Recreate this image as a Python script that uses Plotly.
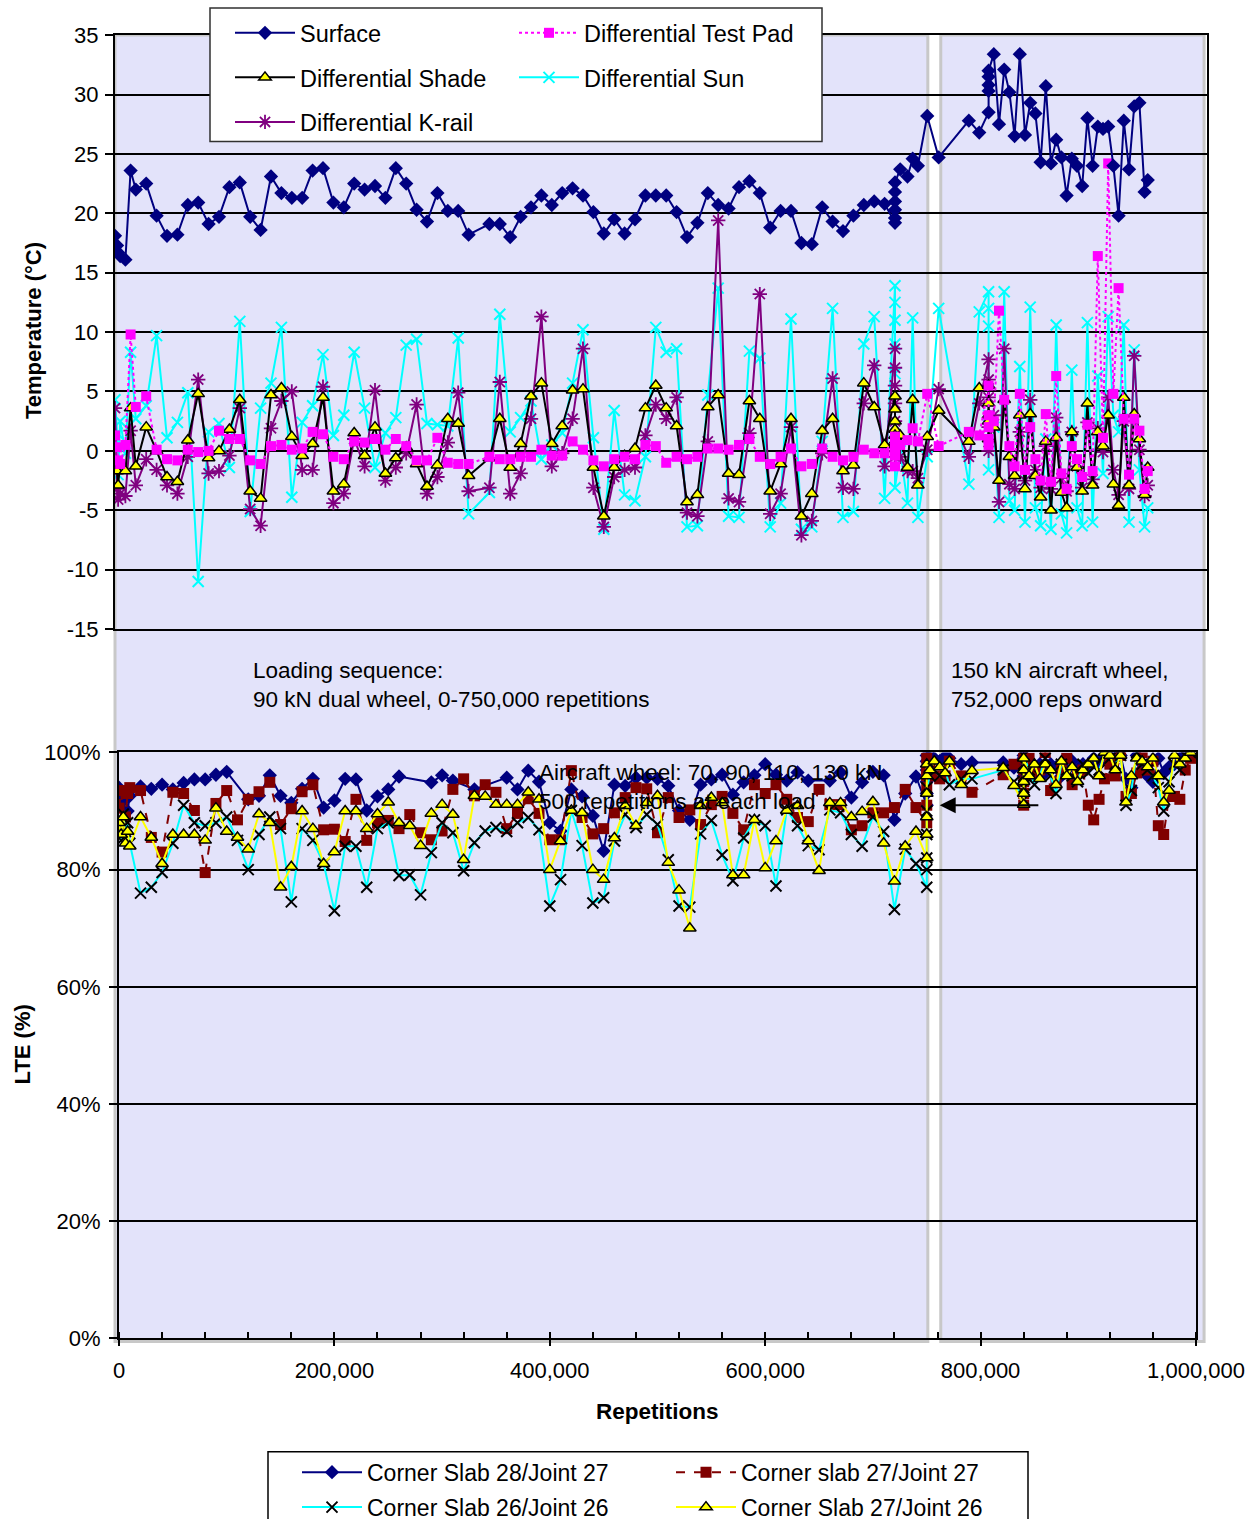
import plotly.graph_objects as go

# ---------------- TOP CHART DATA (temperature) ----------------
temp_reps_k = [0, 2, 3, 5, 10, 15, 20, 30, 40, 50, 60, 70, 80, 90, 100, 110, 120, 130, 140, 150,
               160, 170, 180, 190, 200, 210, 220, 230, 240, 250, 260, 270, 280, 290, 300, 310, 320, 330, 340, 360,
               370, 380, 390, 400, 410, 420, 430, 440, 450, 460, 470, 480, 490, 500, 510, 520, 530, 540, 550, 560,
               570, 580, 590, 600, 610, 620, 630, 640, 650, 660, 670, 680, 690, 700, 710, 720, 730, 740,
               750, 750, 750, 750, 750, 750, 755, 762, 767, 772, 781, 792, 821, 831,
               840, 840, 840, 840, 840, 845, 850, 855, 860, 865, 870, 875, 880, 885, 890, 895, 900, 905, 910, 915,
               920, 925, 930, 935, 940, 945, 950, 955, 960, 965, 970, 975, 980, 985, 990, 993]

surface = [18.1, 17.3, 16.7, 16.4, 16.1, 23.6, 22.0, 22.5, 19.8, 18.1, 18.2, 20.7, 20.9, 19.1, 19.7, 22.2, 22.6, 19.7, 18.6, 23.1,
           21.7, 21.3, 21.3, 23.6, 23.8, 20.9, 20.5, 22.5, 22.0, 22.3, 21.3, 23.8, 22.5, 20.3, 19.3, 21.7, 20.2, 20.2, 18.2, 19.1,
           19.1, 18.0, 19.7, 20.5, 21.5, 20.7, 21.7, 22.1, 21.5, 20.1, 18.3, 19.5, 18.3, 19.5, 21.5, 21.5, 21.5, 20.1, 18.0, 19.2,
           21.7, 20.7, 20.4, 22.2, 22.7, 21.7, 18.8, 20.2, 20.2, 17.5, 17.4, 20.5, 19.3, 18.5, 19.8, 20.7, 21.0, 20.8,
           19.2, 19.6, 20.3, 21.0, 21.8, 22.6, 23.7, 23.1, 24.6, 24.0, 28.2, 24.7, 27.8, 26.8,
           28.5, 30.3, 30.8, 31.5, 32.0, 33.4, 27.5, 32.1, 30.2, 26.5, 33.4, 26.6, 29.3, 28.4, 24.3, 30.7, 24.2, 26.2, 24.7, 21.5,
           24.6, 24.0, 22.3, 28.0, 24.0, 27.3, 27.1, 27.3, 24.0, 19.8, 27.8, 23.7, 29.0, 29.3, 21.8, 22.8]

diff_shade = [-1.1, -1.7, -2.9, -1.0, -1.7, 3.6, -1.3, 2.0, 0.0, -2.2, -2.6, 0.9, 4.8, -0.6, 0.0, 1.8, 4.3, -3.4, -4.0, 4.7,
              5.3, 1.2, -0.4, 0.6, 4.5, -3.4, -2.8, 1.5, -0.4, 2.0, -1.9, -0.6, 0.3, -1.1, -3.0, -1.2, 2.7, 2.3, -2.1, -0.6,
              2.7, -1.4, 0.6, 4.6, 5.7, 0.6, 2.1, 5.1, 5.2, -1.4, -5.5, -1.4, -0.4, 0.2, 3.6, 5.5, 3.6, 2.1, -4.3, -3.7,
              3.7, 4.7, -1.9, -2.0, 4.2, 2.7, -3.4, -1.1, 2.7, -5.5, -3.6, 1.7, 2.7, -1.7, -1.2, 5.7, 3.7, 0.5,
              4.6, 3.5, 2.5, 1.8, 1.3, 0.8, 1.3, -1.4, 4.3, -2.9, 1.2, 3.4, 0.8, 5.3,
              5.5, 4.0, 2.5, 1.0, 3.0, 2.0, -2.5, 4.3, -0.5, -2.1, 3.0, -3.2, 3.1, -2.1, -3.9, 0.8, -5.0, 1.1, -3.5, -4.8,
              1.6, -1.4, -3.4, 4.0, -2.9, 1.6, 0.4, 3.0, -2.8, -4.6, 4.5, -2.9, 3.1, 1.0, -3.7, -1.4]

diff_sun = [4.3, 1.5, -2.0, 2.5, -0.2, 8.3, 2.7, 3.8, 9.7, 1.1, 2.4, 4.9, -11.0, 1.6, 2.3, -1.4, 10.9, -5.1, 3.6, 5.7,
            10.4, -3.9, 2.4, 3.8, 8.1, 1.3, 3.0, 8.3, 3.6, -1.4, 1.5, 2.8, 8.9, 9.4, 2.3, 2.2, 2.1, 9.5, -5.3, -3.5,
            11.5, 1.6, 2.8, 4.2, -0.7, 0.5, 1.5, 5.7, 10.2, 1.1, -6.6, 3.4, -3.7, -4.2, -0.5, 10.4, 8.3, 8.6, -6.4, -6.3,
            4.7, 13.7, -5.5, -5.6, 8.4, 7.8, -6.4, -4.4, 11.1, -6.6, -6.4, 0.8, 12.0, -5.6, -5.1, 9.0, 11.3, -4.0,
            13.9, 12.5, 11.0, 9.0, 6.5, -3.1, 0.0, -4.4, 11.2, -5.6, -0.5, 12.0, -2.8, 11.7,
            13.4, 12.0, 10.5, -1.6, 3.0, 2.0, -5.6, 13.4, -4.2, -5.0, 7.1, -6.0, 12.1, -4.8, -6.3, 1.0, -6.6, 10.6, -5.3, -6.9,
            6.8, -4.8, -6.3, 10.8, -6.0, 6.3, -1.9, 11.3, 3.0, 1.6, 10.6, -6.0, 8.5, -1.6, -6.4, -4.8]

diff_krail = [3.6, -3.2, -4.1, -3.6, -3.8, 1.7, -2.9, -0.7, -1.6, -2.9, -3.6, -0.5, 6.0, -1.9, -1.7, -0.4, 3.6, -4.9, -6.3, 1.9,
              4.2, 5.0, -1.6, -1.6, 5.4, -4.4, -3.6, 1.0, -1.3, 5.1, -2.5, -1.4, -0.2, 3.9, -3.6, -2.2, 0.7, 4.9, -3.4, -3.1,
              5.8, -3.6, -1.9, 2.7, 11.3, -1.3, -0.2, 2.7, 8.6, -3.1, -6.4, -2.2, -1.6, -1.4, 1.3, 3.9, 2.7, 4.5, -5.2, -5.5,
              0.8, 19.4, -4.0, -4.3, 1.5, 13.2, -5.3, -3.6, 2.0, -7.1, -5.9, -0.2, 6.1, -3.1, -3.2, 4.0, 7.2, -1.3,
              8.6, 7.0, 5.5, 4.0, 2.5, -0.5, -0.5, -1.7, -1.7, -2.3, 0.1, 5.2, -0.5, 4.0,
              7.7, 6.0, 4.5, 2.0, 0.0, 3.0, -4.3, 8.6, -2.8, -3.2, 1.6, -2.5, 4.3, -1.6, -3.1, 0.4, -3.2, 2.8, -2.3, -3.4,
              1.6, -1.3, -3.1, 2.4, -2.4, 1.9, -0.1, 4.5, -1.6, -3.7, 2.5, -3.2, 8.0, 0.1, -3.8, -2.9]

diff_test_pad = [1.3, 0.3, -0.8, -1.1, 0.5, 9.8, 3.7, 4.6, 0.1, -0.7, -0.8, 0.1, -0.1, 0.0, 1.7, 1.0, 1.0, -0.8, -1.1, 0.4,
                 0.5, 0.1, 0.2, 1.6, 1.4, -0.5, -0.7, 0.8, 0.7, 1.0, 0.1, 1.0, 0.4, -0.8, -0.8, 1.1, -1.0, -1.1, -1.1, -0.5,
                 -0.7, -0.7, -0.5, -0.5, 0.1, -0.4, -0.4, 0.8, 0.1, -0.8, -1.3, -0.7, -0.5, -0.7, 0.5, 0.4, -1.0, -0.5, -0.7, -0.5,
                 0.2, 0.2, 0.1, 0.5, 1.0, -0.5, -1.1, -0.5, 0.2, -1.3, -1.1, 0.2, -0.5, -0.8, -0.5, 0.1, -0.2, -0.2,
                 1.2, 0.8, 0.5, 0.0, -0.4, -1.3, 0.5, 0.9, 1.9, 0.8, 4.8, 0.4, 1.6, 1.3,
                 5.5, 3.0, 2.0, 1.0, 0.5, 2.5, 11.8, 4.3, 0.4, -1.3, 4.8, -1.6, 2.0, -0.7, -2.5, 3.1, -2.6, 6.3, -1.9, -3.2,
                 0.4, -0.7, -2.2, 2.2, -1.7, 16.4, 1.1, 24.2, 4.8, 13.7, 2.7, -2.0, 2.7, 1.7, -3.2, -1.7]

temp_ticks = [-15, -10, -5, 0, 5, 10, 15, 20, 25, 30, 35]

# ---------------- BOTTOM CHART DATA (LTE) ----------------
lte_reps_k = [0, 2, 4, 6, 8, 10, 20, 30, 40, 50, 60, 70, 80, 90, 100, 110, 120, 130, 140, 150,
              160, 170, 180, 190, 200, 210, 220, 230, 240, 250, 260, 270, 280, 290, 300, 310, 320, 330, 340, 350,
              360, 370, 380, 390, 400, 410, 420, 430, 440, 450, 460, 470, 480, 490, 500, 510, 520, 530, 540, 550,
              560, 570, 580, 590, 600, 610, 620, 630, 640, 650, 660, 670, 680, 690, 700, 710, 720, 730, 740,
              750, 750, 750, 750, 750, 750, 753, 757, 762, 767, 771, 782, 792, 821, 831,
              840, 840, 840, 840, 840, 845, 850, 855, 860, 865, 870, 875, 880, 885, 890, 895, 900, 905, 910, 915,
              920, 925, 930, 935, 940, 945, 950, 955, 960, 965, 970, 975, 980, 985, 990, 995]

slab28_joint27 = [0.940, 0.915, 0.885, 0.925, 0.900, 0.926, 0.942, 0.938, 0.945, 0.937, 0.948, 0.954, 0.954, 0.962, 0.967, None, 0.920, 0.926, 0.961, 0.926,
                  0.914, 0.938, 0.955, 0.906, 0.918, 0.955, 0.954, 0.901, 0.925, 0.937, 0.959, None, None, 0.949, 0.961, 0.952, None, 0.937, None, None,
                  0.957, 0.937, 0.969, 0.950, 0.880, 0.866, 0.937, 0.925, 0.892, 0.832, 0.945, 0.943, 0.957, 0.957, 0.955, 0.943, 0.901, 0.885, 0.945, 0.954,
                  0.962, 0.928, 0.949, 0.961, 0.980, 0.962, 0.952, 0.966, 0.952, None, 0.952, 0.966, 0.923, 0.949, 0.967, 0.961, 0.885, 0.930, 0.959,
                  0.910, 0.930, 0.950, 0.970, 0.985, 0.995, 0.995, 0.990, 0.985, 0.993, 0.990, 0.980, 0.983, 0.983, 0.974,
                  0.970, 0.980, 0.990, 0.995, 0.960, 0.980, 0.975, 0.980, 0.965, 0.980, 0.975, 0.960, 0.970, 0.985, 0.970, 0.980, 0.975, 0.990, 0.980, 0.995,
                  1.000, 0.990, 0.995, 0.955, 0.940, 0.995, 0.980, 0.960, 0.950, 0.990, 0.965, 0.975, 0.980, 0.990, 0.995, 0.995]

slab27_joint27 = [0.905, 0.935, 0.875, 0.890, 0.930, 0.940, 0.935, 0.855, 0.830, 0.932, 0.930, 0.901, 0.795, 0.913, 0.935, 0.885, 0.920, 0.933, 0.949, 0.877,
                  0.904, 0.933, 0.945, 0.868, 0.869, 0.848, 0.920, 0.850, 0.880, 0.884, 0.870, 0.894, 0.863, 0.851, 0.866, 0.937, 0.955, 0.926, 0.945, 0.932,
                  0.870, 0.896, 0.921, 0.896, 0.851, 0.851, 0.969, 0.889, 0.861, 0.870, 0.897, 0.923, 0.940, 0.938, 0.863, 0.923, 0.889, 0.902, 0.877, 0.911,
                  0.925, 0.896, 0.868, 0.945, 0.930, 0.945, 0.920, 0.889, 0.882, 0.937, 0.911, 0.911, 0.868, 0.875, 0.897, 0.897, 0.906, 0.937, 0.906,
                  0.880, 0.910, 0.940, 0.960, 0.970, 0.990, 0.980, 0.960, 0.955, 0.960, 0.985, 0.960, 0.932, 0.962, 0.980,
                  0.990, 0.970, 0.950, 0.930, 0.910, 0.990, 0.960, 0.970, 1.000, 0.935, 0.950, 0.970, 0.990, 0.945, 0.965, 0.970, 0.910, 0.885, 0.920, 0.955,
                  0.980, 0.960, 0.995, 0.925, 0.930, 0.965, 1.000, 0.970, 0.985, 0.875, 0.860, 0.925, 0.925, 0.920, 0.970, 0.990]

slab26_joint26 = [0.870, 0.850, 0.895, 0.865, 0.880, 0.845, 0.760, 0.770, 0.795, 0.845, 0.910, 0.880, 0.875, 0.880, 0.890, 0.850, 0.800, 0.860, 0.890, 0.870,
                  0.745, 0.870, 0.850, 0.810, 0.730, 0.840, 0.840, 0.770, 0.870, 0.880, 0.790, 0.791, 0.757, 0.829, 0.880, 0.863, 0.798, 0.846, 0.866, 0.872,
                  0.865, 0.880, 0.889, 0.868, 0.738, 0.783, 0.901, 0.841, 0.743, 0.752, 0.849, 0.894, 0.872, 0.894, 0.877, 0.817, 0.738, 0.736, 0.861, 0.884,
                  0.825, 0.781, 0.854, 0.885, 0.875, 0.772, 0.902, 0.875, 0.841, 0.834, 0.902, 0.897, 0.860, 0.840, 0.890, 0.865, 0.732, 0.835, 0.810,
                  0.770, 0.800, 0.820, 0.860, 0.900, 0.940, 0.960, 0.970, 0.960, 0.970, 0.945, 0.955, 0.955, 0.970, 0.950,
                  0.920, 0.940, 0.960, 0.980, 0.995, 0.970, 0.945, 0.960, 0.990, 0.960, 0.930, 0.980, 0.970, 0.960, 0.950, 0.980, 0.965, 0.975, 0.970, 0.995,
                  0.990, 0.980, 0.995, 0.910, 0.935, 1.000, 0.980, 0.970, 0.960, 0.940, 0.900, 0.950, 0.980, 0.970, 0.995, 1.000]

slab27_joint26 = [0.880, 0.860, 0.890, 0.845, 0.865, 0.840, 0.890, 0.855, 0.810, 0.860, 0.860, 0.860, 0.850, 0.905, 0.865, 0.855, 0.835, 0.895, 0.880, 0.770,
                  0.805, 0.900, 0.870, 0.810, 0.830, 0.900, 0.900, 0.870, 0.895, 0.915, 0.880, 0.875, 0.841, 0.896, 0.911, 0.894, 0.817, 0.926, 0.925, 0.911,
                  0.911, 0.911, 0.932, 0.920, 0.800, 0.849, 0.901, 0.897, 0.800, 0.783, 0.854, 0.909, 0.875, 0.914, 0.926, 0.812, 0.765, 0.700, 0.909, 0.923,
                  0.914, 0.791, 0.791, 0.885, 0.803, 0.849, 0.901, 0.909, 0.849, 0.798, 0.914, 0.914, 0.890, 0.899, 0.916, 0.845, 0.780, 0.840, 0.865,
                  0.820, 0.860, 0.890, 0.930, 0.960, 0.980, 0.970, 0.985, 0.975, 0.965, 0.985, 0.945, 0.969, 0.974, 0.943,
                  0.911, 0.930, 0.950, 0.970, 0.990, 0.960, 0.980, 0.955, 0.980, 0.970, 0.945, 0.985, 0.960, 0.975, 0.950, 0.970, 0.980, 0.990, 0.960, 1.000,
                  0.995, 0.970, 0.995, 0.915, 0.960, 0.990, 0.985, 0.975, 0.990, 0.960, 0.915, 0.935, 0.995, 0.980, 0.990, 1.000]

# background loading-phase bands (repetitions on the LTE axis)
phase_starts = [-3700, 763000]
phase_ends = [751000, 1007500]

temp_reps = [r * 1000 for r in temp_reps_k]
lte_reps = [r * 1000 for r in lte_reps_k]

W = 1260
REF_H = 1519          # reference picture height used for placement fractions
H = 1529              # layout height (renderer squeezes vertically slightly)
FONT = "Liberation Sans, Arial, sans-serif"


def fx(p):
    return p / W


def fy(p):
    return 1 - p / REF_H


X2_DOM = [fx(119), fx(1196)]
X2_RANGE = [0, 1000000]


def x2_paper(r):
    return X2_DOM[0] + (r - X2_RANGE[0]) / (X2_RANGE[1] - X2_RANGE[0]) * (X2_DOM[1] - X2_DOM[0])


fig = go.Figure()

NAVY = "#000080"
MAG = "#FF00FF"
CYAN = "#00FFFF"
PURP = "#800080"
DRED = "#800000"
YEL = "#FFFF00"

# ---- top traces ----
fig.add_trace(go.Scatter(x=temp_reps, y=diff_sun, name="Differential Sun", mode="lines+markers",
                         line=dict(color=CYAN, width=2),
                         marker=dict(symbol="x-thin-open", size=11, color=CYAN, line=dict(color=CYAN, width=2)),
                         xaxis="x", yaxis="y", legend="legend2", legendgroup="g5", legendrank=2))
fig.add_trace(go.Scatter(x=temp_reps, y=diff_krail, name="Differential K-rail", mode="lines+markers",
                         line=dict(color=PURP, width=2),
                         marker=dict(symbol="asterisk-open", size=12, color=PURP, line=dict(color=PURP, width=1.8)),
                         xaxis="x", yaxis="y", legend="legend", legendgroup="g3", legendrank=3))
fig.add_trace(go.Scatter(x=temp_reps, y=diff_shade, name="Differential Shade", mode="lines+markers",
                         line=dict(color="black", width=2),
                         marker=dict(symbol="triangle-up", size=11, color=YEL, line=dict(color="black", width=1.5)),
                         xaxis="x", yaxis="y", legend="legend", legendgroup="g2", legendrank=2))
fig.add_trace(go.Scatter(x=temp_reps, y=diff_test_pad, name="Differential Test Pad", mode="lines+markers",
                         line=dict(color=MAG, width=2, dash="dot"),
                         marker=dict(symbol="square", size=10, color=MAG),
                         xaxis="x", yaxis="y", legend="legend2", legendgroup="g4", legendrank=1))
fig.add_trace(go.Scatter(x=temp_reps, y=surface, name="Surface", mode="lines+markers",
                         line=dict(color=NAVY, width=2),
                         marker=dict(symbol="diamond", size=11, color=NAVY),
                         xaxis="x", yaxis="y", legend="legend", legendgroup="g1", legendrank=1))

# ---- bottom traces ----
fig.add_trace(go.Scatter(x=lte_reps, y=slab28_joint27, name="Corner Slab 28/Joint 27", mode="lines+markers",
                         connectgaps=True, line=dict(color=NAVY, width=2),
                         marker=dict(symbol="diamond", size=11, color=NAVY),
                         xaxis="x2", yaxis="y2", legend="legend3", legendgroup="h1", legendrank=1))
fig.add_trace(go.Scatter(x=lte_reps, y=slab27_joint27, name="Corner slab 27/Joint 27", mode="lines+markers",
                         connectgaps=True, line=dict(color=DRED, width=2, dash="dash"),
                         marker=dict(symbol="square", size=11, color=DRED),
                         xaxis="x2", yaxis="y2", legend="legend4", legendgroup="h2", legendrank=1))
fig.add_trace(go.Scatter(x=lte_reps, y=slab26_joint26, name="Corner Slab 26/Joint 26", mode="lines+markers",
                         connectgaps=True, line=dict(color=CYAN, width=2),
                         marker=dict(symbol="x-thin-open", size=11, color="black", line=dict(color="black", width=2)),
                         xaxis="x2", yaxis="y2", legend="legend3", legendgroup="h3", legendrank=2))
fig.add_trace(go.Scatter(x=lte_reps, y=slab27_joint26, name="Corner Slab 27/Joint 26", mode="lines+markers",
                         connectgaps=True, line=dict(color=YEL, width=2),
                         marker=dict(symbol="triangle-up", size=11, color=YEL, line=dict(color="black", width=1.5)),
                         xaxis="x2", yaxis="y2", legend="legend4", legendgroup="h4", legendrank=2))

# ---- background bands ----
shapes = []
for s, e in zip(phase_starts, phase_ends):
    shapes.append(dict(type="rect", xref="paper", yref="paper", x0=x2_paper(s), x1=x2_paper(e),
                       y0=fy(1337), y1=fy(35), fillcolor="#E3E3FA", line=dict(color="#C8C8C8", width=3),
                       layer="below"))
# legend boxes
shapes.append(dict(type="rect", xref="paper", yref="paper", x0=fx(210), x1=fx(822), y0=fy(141), y1=fy(8),
                   fillcolor="white", line=dict(color="#303030", width=1.5), layer="above"))
shapes.append(dict(type="rect", xref="paper", yref="paper", x0=fx(268), x1=fx(1028), y0=fy(1545), y1=fy(1447),
                   fillcolor="white", line=dict(color="black", width=1.5), layer="above"))

tickfont = dict(family=FONT, size=22, color="black")
annfont = dict(family=FONT, size=22.5, color="black")
legfont = dict(family=FONT, size=23.5, color="black")
legfont2 = dict(family=FONT, size=23, color="black")

annotations = [
    dict(text="<b>Temperature (°C)</b>", x=fx(33), y=fy(330), xref="paper", yref="paper", showarrow=False,
         xanchor="center", yanchor="middle", textangle=-90, font=dict(family=FONT, size=22, color="black")),
    dict(text="<b>LTE (%)</b>", x=fx(22), y=fy(1041), xref="paper", yref="paper", showarrow=False,
         xanchor="center", yanchor="middle", textangle=-90, font=dict(family=FONT, size=22, color="black")),
    dict(text="<b>Repetitions</b>", x=fx(657), y=fy(1407), xref="paper", yref="paper", showarrow=False,
         xanchor="center", yanchor="middle", font=dict(family=FONT, size=22.5, color="black")),
    dict(text="Loading sequence:<br>90 kN dual wheel, 0-750,000 repetitions", x=fx(251), y=fy(683),
         xref="paper", yref="paper", showarrow=False, xanchor="left", yanchor="middle", align="left", font=annfont),
    dict(text="150 kN aircraft wheel,<br>752,000 reps onward", x=fx(949), y=fy(683),
         xref="paper", yref="paper", showarrow=False, xanchor="left", yanchor="middle", align="left", font=annfont),
    dict(text="Aircraft wheel: 70, 90, 110, 130 kN<br>500 repetitions at each load", x=fx(537), y=fy(784),
         xref="paper", yref="paper", showarrow=False, xanchor="left", yanchor="middle", align="left", font=annfont),
    dict(text="", x=762000, y=0.91, xref="x2", yref="y2", ax=855000, ay=0.91, axref="x2", ayref="y2",
         showarrow=True, arrowhead=2, arrowsize=1.6, arrowwidth=2, arrowcolor="black"),
]

fig.update_layout(
    width=W, height=H, autosize=False,
    margin=dict(l=0, r=0, t=0, b=0),
    paper_bgcolor="white", plot_bgcolor="rgba(0,0,0,0)",
    font=dict(family=FONT, size=20, color="black"),
    shapes=shapes, annotations=annotations,
    xaxis=dict(domain=[fx(115), fx(1207)], range=[0, 1050000], anchor="y", showticklabels=False, ticks="",
               showgrid=False, zeroline=False, showline=True, linecolor="black", linewidth=2, mirror=True,
               automargin=False),
    yaxis=dict(domain=[fy(627), fy(35)], range=[-15, 35], tickmode="array", tickvals=temp_ticks,
               ticktext=[str(t) for t in temp_ticks], anchor="x", ticks="outside",
               ticklen=8, tickwidth=2, tickcolor="black", gridcolor="black", gridwidth=2, showline=True,
               linecolor="black", linewidth=2, mirror=True, zeroline=False, tickfont=tickfont,
               ticklabelstandoff=2, automargin=False),
    xaxis2=dict(domain=X2_DOM, range=X2_RANGE, anchor="y2", dtick=200000, tick0=0, tickformat=",d",
                ticks="outside", ticklen=6, tickwidth=2, tickcolor="black",
                minor=dict(dtick=40000, ticks="inside", ticklen=6, tickwidth=1.5, tickcolor="black", showgrid=False),
                showgrid=False, zeroline=False, showline=True, linecolor="black", linewidth=2, mirror=True,
                tickfont=tickfont, ticklabelstandoff=5, automargin=False),
    yaxis2=dict(domain=[fy(1334), fy(750)], range=[0, 1], dtick=0.2, tickformat=".0%", anchor="x2",
                ticks="outside", ticklen=8, tickwidth=2, tickcolor="black", gridcolor="black", gridwidth=2,
                showline=True, linecolor="black", linewidth=2, mirror=True, zeroline=False, tickfont=tickfont,
                ticklabelstandoff=4, automargin=False),
    legend=dict(x=fx(230), y=fy(11), xanchor="left", yanchor="top", bgcolor="rgba(0,0,0,0)", borderwidth=0,
                font=legfont, tracegroupgap=11, itemwidth=60, traceorder="grouped"),
    legend2=dict(x=fx(514), y=fy(11), xanchor="left", yanchor="top", bgcolor="rgba(0,0,0,0)", borderwidth=0,
                 font=legfont, tracegroupgap=11, itemwidth=60, traceorder="grouped"),
    legend3=dict(x=fx(297), y=fy(1446), xanchor="left", yanchor="top", bgcolor="rgba(0,0,0,0)", borderwidth=0,
                 font=legfont2, tracegroupgap=2, itemwidth=60, traceorder="grouped"),
    legend4=dict(x=fx(671), y=fy(1446), xanchor="left", yanchor="top", bgcolor="rgba(0,0,0,0)", borderwidth=0,
                 font=legfont2, tracegroupgap=2, itemwidth=60, traceorder="grouped"),
    showlegend=True,
)

page_js = ("var s=document.createElement('style');"
           "s.innerHTML='html,body{margin:0;padding:0;overflow:hidden;font-size:0;line-height:0;}';"
           "document.head.appendChild(s);")

fig.write_html("out.html", config={"displayModeBar": False}, post_script=page_js)
